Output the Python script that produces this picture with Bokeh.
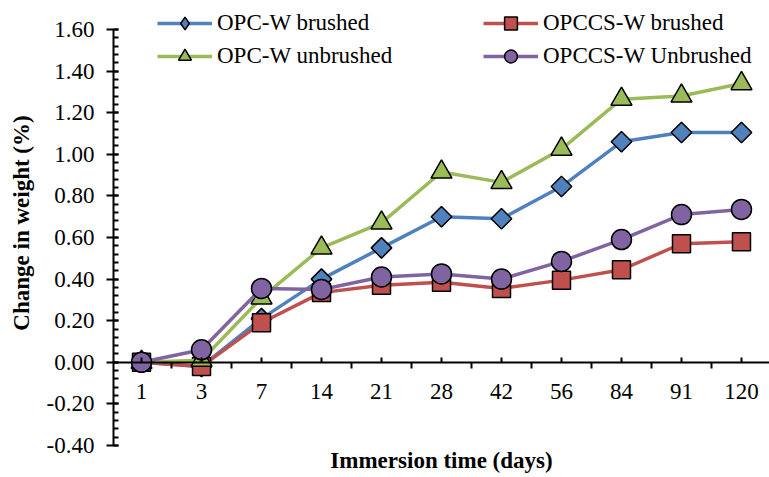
import math
from bokeh.plotting import figure
from bokeh.models import (LinearAxis, FixedTicker, Range1d, Legend, LegendItem,
                          Title, PrintfTickFormatter, ColumnDataSource)
from bokeh.embed import file_html
from bokeh.resources import INLINE

# ---- data ----
days = ["1", "3", "7", "14", "21", "28", "42", "56", "84", "91", "120"]
opc_w_brushed = [0.00, -0.02, 0.21, 0.40, 0.55, 0.70, 0.69, 0.845, 1.06, 1.105, 1.105]
opccs_w_brushed = [0.00, -0.02, 0.19, 0.335, 0.37, 0.385, 0.355, 0.395, 0.445, 0.57, 0.58]
opc_w_unbrushed = [0.00, 0.01, 0.31, 0.55, 0.67, 0.915, 0.865, 1.025, 1.265, 1.28, 1.34]
opccs_w_unbrushed = [0.00, 0.06, 0.355, 0.35, 0.41, 0.425, 0.40, 0.485, 0.59, 0.71, 0.735]
y_ticks = [-0.4, -0.2, 0.0, 0.2, 0.4, 0.6, 0.8, 1.0, 1.2, 1.4, 1.6]
series_names = ["OPC-W brushed", "OPCCS-W brushed", "OPC-W unbrushed", "OPCCS-W Unbrushed"]

x = list(range(len(days)))
FONT = "Liberation Serif"

p = figure(width=769, height=477, output_backend="svg", toolbar_location=None,
           x_range=Range1d(-0.467, 10.467), y_range=Range1d(-0.4, 1.7394),
           x_axis_location=None, y_axis_location="left",
           min_border_left=113, min_border_right=0, min_border_top=0, min_border_bottom=32)
p.outline_line_color = None
p.xgrid.visible = False
p.ygrid.visible = False
p.background_fill_color = "white"

# y axis
ya = p.yaxis[0]
minor = [round(-0.4 + 0.04 * i, 2) for i in range(51)]
ya.ticker = FixedTicker(ticks=y_ticks, minor_ticks=minor)
ya.bounds = (-0.4, 1.6)
ya.formatter = PrintfTickFormatter(format="%.2f")
ya.axis_label = "Change in weight (%)"
ya.axis_label_text_font = FONT
ya.axis_label_text_font_size = "23px"
ya.axis_label_text_font_style = "bold"
ya.axis_label_text_color = "black"
ya.axis_label_standoff = 10
ya.major_label_text_font = FONT
ya.major_label_text_font_size = "23px"
ya.major_label_text_color = "black"
ya.major_label_standoff = 12
ya.axis_line_width = 2
ya.major_tick_line_width = 2
ya.minor_tick_line_width = 2
ya.major_tick_out = 7
ya.major_tick_in = 5
ya.minor_tick_out = 0
ya.minor_tick_in = 5

# x axis at y = 0
xa = LinearAxis(fixed_location=0)
xa.ticker = FixedTicker(ticks=x, minor_ticks=[i + 0.5 for i in x[:-1]])
xa.major_label_overrides = {i: d for i, d in zip(x, days)}
xa.major_label_text_font = FONT
xa.major_label_text_font_size = "23px"
xa.major_label_text_color = "black"
xa.major_label_standoff = 16
xa.axis_line_width = 2
xa.major_tick_line_width = 2
xa.minor_tick_line_width = 2
xa.major_tick_in = 5
xa.major_tick_out = 0
xa.minor_tick_in = 0
xa.minor_tick_out = 6
p.add_layout(xa, "below")

p.add_layout(Title(text="Immersion time (days)", align="center", text_font=FONT,
                   text_font_size="23px", text_font_style="bold", text_color="black",
                   standoff=0, offset=0), "below")

styles = [
    (opc_w_brushed, "#4F81BD", "square", 14.5, math.pi / 4, "diamond"),
    (opccs_w_brushed, "#C0504D", "square", 18, 0, None),
    (opc_w_unbrushed, "#9BBB59", "triangle", 21, 0, None),
    (opccs_w_unbrushed, "#8064A2", "circle", 20, 0, None),
]
items = []
for name, (vals, col, mk, sz, ang, legend_mk) in zip(series_names, styles):
    src = ColumnDataSource(dict(x=x, y=vals))
    l = p.line("x", "y", source=src, line_color=col, line_width=3.5)
    s = p.scatter("x", "y", source=src, marker=mk, size=sz, angle=ang, fill_color=col,
                  line_color="black", line_width=1.5)
    if legend_mk is not None:
        # legend-only marker (legend glyphs ignore marker rotation); drawn tiny,
        # hidden beneath the first-day markers of the other series
        leg_src = ColumnDataSource(dict(x=x[:1], y=vals[:1]))
        s_leg = p.scatter("x", "y", source=leg_src, marker=legend_mk, size=1,
                          fill_color=col, line_color="black", line_width=1.5)
        items.append(LegendItem(label=name, renderers=[l, s_leg]))
    else:
        items.append(LegendItem(label=name, renderers=[l, s]))

def make_legend(its, loc):
    lg = Legend(items=its, location=loc, orientation="vertical",
                label_text_font=FONT, label_text_font_size="23px",
                label_text_color="black",
                glyph_width=55, glyph_height=32, label_height=32, spacing=1,
                padding=0, margin=0, border_line_color=None,
                background_fill_alpha=0, label_standoff=5)
    return lg

p.add_layout(make_legend([items[0], items[2]], (44, 373)), "center")
p.add_layout(make_legend([items[1], items[3]], (370, 373)), "center")

open("out.html", "w").write(file_html(p, INLINE))
